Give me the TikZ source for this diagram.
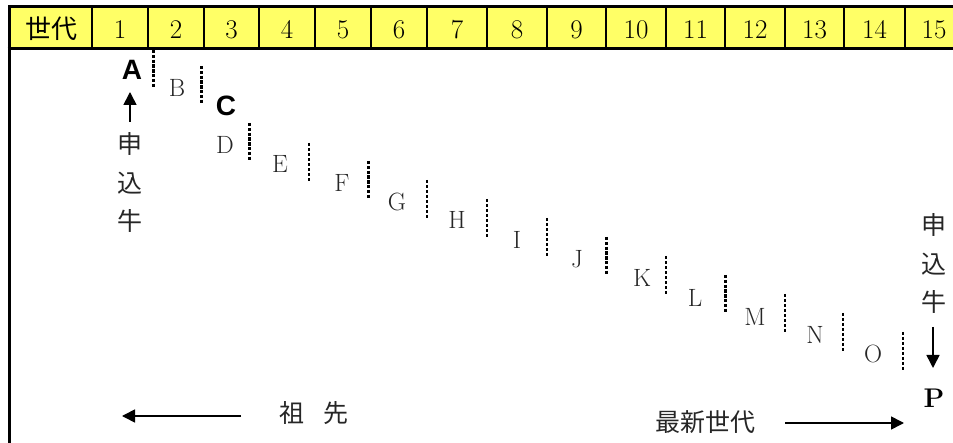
\documentclass[tikz,border=0pt]{standalone}
\usepackage{fontspec}
\newfontfamily\cjk{Noto Sans CJK JP}
\newfontfamily\sansfnt{Liberation Sans}
\usetikzlibrary{arrows.meta}
\definecolor{hdryellow}{HTML}{FFFF66}
\begin{document}
\begin{tikzpicture}[x=1pt,y=-1pt,
  hdrtxt/.style={inner sep=0pt,font=\fontsize{27}{29}\selectfont},
  hdrcjk/.style={inner sep=0pt,font=\cjk\fontsize{26}{28}\selectfont},
  serlet/.style={inner sep=0pt,text=black!85,font=\fontsize{25}{27}\selectfont},
  boldsans/.style={inner sep=0pt,font=\sansfnt\bfseries\fontsize{28}{30}\selectfont},
  boldser/.style={inner sep=0pt,font=\bfseries\fontsize{27}{29}\selectfont},
  cjktxt/.style={inner sep=0pt,text=black!85,font=\cjk\fontsize{25}{27}\selectfont},
  dthick/.style={line width=3pt,dash pattern=on 3.5pt off 1.3pt},
  dthin/.style={line width=1.6pt,dash pattern=on 3.5pt off 1.5pt},
  arr/.style={line width=1.6pt,-{Triangle[length=13pt,width=13pt]}},
  border/.style={line width=3pt},
  coldiv/.style={line width=2.6pt}]
\useasboundingbox (0,0) rectangle (953,443);
% header
\fill[hdryellow] (9,7) rectangle (953,49);
\foreach \x in {92,148,204,259,315,371,427,487,547,606,666,725,785,844,905}
  \draw[coldiv] (\x,7) -- (\x,49);
\draw[border] (953,7) -- (7.5,7);
\draw[border] (9,5.5) -- (9,443);
\draw[border] (7.5,49) -- (953,49);
\node[hdrcjk] (h0) at (51,29) {世代};
\foreach \n/\a/\b in {1/92/148,2/148/204,3/204/259,4/259/315,5/315/371,6/371/427,7/427/487,8/487/547,9/547/606,10/606/666,11/666/725,12/725/785,13/785/844,14/844/905,15/905/963}
  \node[hdrtxt] (h\n) at ({(\a+\b)/2},29.5) {\n};
% dashed separators
\foreach \x/\t/\s in {153/50/dthick,201/66/dthick,249/123/dthick,309/143/dthin,368/161/dthick,427/180/dthin,487/199/dthin,547/218/dthin,606/237/dthick,666/256/dthin,725/275/dthick,785/294/dthin,843/313/dthin,903/332/dthin}
  \draw[\s] (\x,\t) -- (\x,\t+38);
% letters
\node[boldsans] (A) at (132,70) {A};
\node[serlet] (B) at (177,88) {B};
\node[boldsans] (C) at (226,106) {C};
\node[serlet] (D) at (225,145) {D};
\node[serlet] (E) at (280,164) {E};
\node[serlet] (F) at (342,183) {F};
\node[serlet] (G) at (397,202) {G};
\node[serlet] (H) at (457,220) {H};
\node[serlet] (I) at (517,240) {I};
\node[serlet] (J) at (577,259) {J};
\node[serlet] (K) at (642,278) {K};
\node[serlet] (L) at (695,298) {L};
\node[serlet] (M) at (755,317) {M};
\node[serlet] (N) at (815,335) {N};
\node[serlet] (O) at (873,354) {O};
\node[boldser] (P) at (934,398) {P};
% left vertical text and arrow
\node[cjktxt] (ls1) at (130,144) {申};
\node[cjktxt] (ls2) at (130,183) {込};
\node[cjktxt] (ls3) at (130,221) {牛};
\coordinate (lup0) at (130,122);
\coordinate (lup1) at (130,92);
\draw[arr] (lup0) -- (lup1);
% right vertical text and arrow
\node[cjktxt] (rs1) at (934,225) {申};
\node[cjktxt] (rs2) at (934,264) {込};
\node[cjktxt] (rs3) at (934,302) {牛};
\coordinate (rdn0) at (933,327);
\coordinate (rdn1) at (933,368);
\draw[arr] (rdn0) -- (rdn1);
% bottom
\node[cjktxt] (so) at (292,413) {祖};
\node[cjktxt] (sen) at (336,413) {先};
\coordinate (la0) at (241,416);
\coordinate (la1) at (122,416);
\draw[arr] (la0) -- (la1);
\node[cjktxt] (new) at (705,422) {最新世代};
\coordinate (ra0) at (785,423);
\coordinate (ra1) at (904,423);
\draw[arr] (ra0) -- (ra1);
\end{tikzpicture}
\end{document}
